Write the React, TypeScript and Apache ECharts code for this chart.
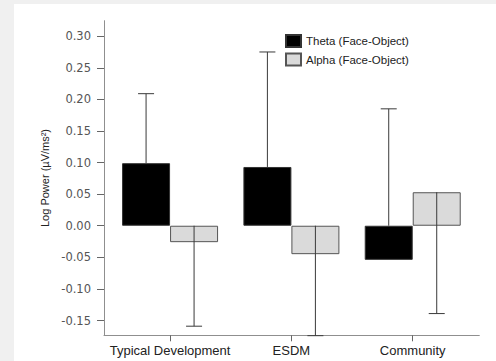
import React, { useEffect, useRef } from "react";
import * as echarts from "echarts";

const categories = ["Typical Development", "ESDM", "Community"];
const seriesNames = ["Theta (Face-Object)", "Alpha (Face-Object)"];
const thetaValues = [0.099, 0.093, -0.054];
const alphaValues = [-0.026, -0.045, 0.053];
const thetaUpper = [0.209, 0.275, 0.185];
const alphaLower = [-0.159, -0.174, -0.139];
const yTicks = [-0.15, -0.1, -0.05, 0, 0.05, 0.1, 0.15, 0.2, 0.25, 0.3];
const yMin = -0.1734;
const yMax = 0.3245;

const BAR_W = 48;
const CAP_W = 16;

export default function App() {
  const ref = useRef<HTMLDivElement>(null);
  useEffect(() => {
    if (!ref.current) return;
    const chart = echarts.init(ref.current, undefined, { renderer: "svg" });

    const thetaErr = categories.map((_, i) => [i, Math.max(0, thetaValues[i]), thetaUpper[i]]);
    const alphaErr = categories.map((_, i) => [i, Math.max(0, alphaValues[i]), alphaLower[i]]);

    const makeRender = (offset: number) => (params: any, api: any) => {
      const p1 = api.coord([api.value(0), api.value(1)]);
      const p2 = api.coord([api.value(0), api.value(2)]);
      const x = p1[0] + offset;
      const style = { stroke: "#3a3a3a", lineWidth: 1 };
      return {
        type: "group",
        children: [
          { type: "line", shape: { x1: x, y1: p1[1], x2: x, y2: p2[1] }, style },
          { type: "line", shape: { x1: x - CAP_W / 2, y1: p2[1], x2: x + CAP_W / 2, y2: p2[1] }, style },
        ],
      };
    };

    chart.setOption({
      animation: false,
      backgroundColor: "transparent",
      grid: [
        { left: 104, right: 16.7, top: 20.7, bottom: 25.7 },
        { left: 109.4, right: 22.6, top: 20.7, bottom: 25.7 },
      ],
      legend: {
        data: seriesNames,
        orient: "vertical",
        left: 285,
        top: 34,
        padding: 0,
        itemWidth: 15,
        itemHeight: 12,
        itemGap: 4.5,
        icon: "rect",
        textStyle: { fontSize: 11.5, color: "#222", fontFamily: "Liberation Sans" },
      },
      xAxis: [
        {
          type: "value",
          gridIndex: 0,
          min: 0,
          max: 1,
          axisLine: { show: true, onZero: false, lineStyle: { color: "#8f8f8f", width: 1 } },
          axisTick: { show: false },
          axisLabel: { show: false },
          splitLine: { show: false },
        },
        {
          type: "category",
          gridIndex: 1,
          data: categories,
          axisLine: { show: false, onZero: false },
          axisTick: { show: true, alignWithLabel: true, length: 6, lineStyle: { color: "#666" } },
          axisLabel: { interval: 0, fontSize: 13, color: "#222", fontFamily: "Liberation Sans", margin: 9 },
          splitLine: { show: false },
        },
      ],
      yAxis: [
        {
          type: "value",
          gridIndex: 0,
          min: yMin,
          max: yMax,
          name: "Log Power (µV/ms²)",
          nameLocation: "middle",
          nameGap: 53,
          nameTextStyle: { fontSize: 11, color: "#222", fontFamily: "Liberation Sans" },
          axisLine: { show: true, lineStyle: { color: "#8f8f8f", width: 1 } },
          axisTick: { show: true, length: 7, customValues: yTicks, lineStyle: { color: "#666" } },
          axisLabel: {
            customValues: yTicks,
            fontSize: 11.5,
            color: "#555",
            fontFamily: "DejaVu Sans",
            margin: 13,
            formatter: (v: number) => v.toFixed(2),
          },
          splitLine: { show: false },
        },
        {
          type: "value",
          gridIndex: 1,
          min: yMin,
          max: yMax,
          show: false,
          splitLine: { show: false },
        },
      ],
      series: [
        {
          name: seriesNames[0],
          type: "bar",
          xAxisIndex: 1,
          yAxisIndex: 1,
          data: thetaValues,
          barWidth: BAR_W,
          barGap: "0%",
          itemStyle: { color: "#000", borderColor: "#333", borderWidth: 1 },
          z: 2,
        },
        {
          name: seriesNames[1],
          type: "bar",
          xAxisIndex: 1,
          yAxisIndex: 1,
          data: alphaValues,
          barWidth: BAR_W,
          barGap: "0%",
          itemStyle: { color: "#dadada", borderColor: "#555", borderWidth: 1 },
          z: 2,
        },
        {
          type: "custom",
          xAxisIndex: 1,
          yAxisIndex: 1,
          data: thetaErr,
          renderItem: makeRender(-BAR_W / 2),
          z: 5,
          silent: true,
        },
        {
          type: "custom",
          xAxisIndex: 1,
          yAxisIndex: 1,
          data: alphaErr,
          renderItem: makeRender(BAR_W / 2),
          z: 5,
          silent: true,
        },
      ],
    });
    return () => chart.dispose();
  }, []);

  return (
    <div style={{ position: "fixed", left: 0, top: 0, width: 496, height: 361, background: "#f0f0f0" }}>
      <div style={{ position: "absolute", left: 14, top: 4, right: 0, bottom: 0, background: "#fff" }} />
      <div ref={ref} style={{ position: "absolute", left: 0, top: 0, width: 496, height: 361 }} />
    </div>
  );
}
